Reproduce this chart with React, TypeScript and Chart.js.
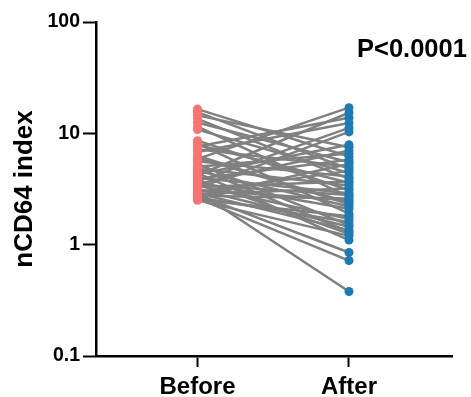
import React, { useEffect, useRef } from "react";
import { Chart, registerables } from "chart.js";

Chart.register(...registerables);

const groupLabels = ["Before", "After"];
const yTickValues = [0.1, 1, 10, 100];
const yTickLabels = ["0.1", "1", "10", "100"];
const pValueText = "P<0.0001";
const yTitle = "nCD64 index";

const beforeValues = [
  16.5, 15.5, 14.5, 13.5, 12.5, 11.5, 10.8, 8.6, 8.1, 7.9, 7.6, 7.2, 6.8, 6.3,
  6.0, 5.9, 5.6, 5.3, 5.0, 4.9, 4.8, 4.6, 4.4, 4.3, 4.2, 4.0, 3.9, 3.8, 3.7,
  3.6, 3.5, 3.45, 3.4, 3.3, 3.2, 3.15, 3.1, 3.0, 2.95, 2.9, 2.85, 2.8, 2.75,
  2.7, 2.65, 2.6, 2.55, 2.5,
];
const afterValues = [
  6.2, 4.8, 7.5, 3.9, 5.5, 2.7, 4.4, 3.1, 1.9, 3.6, 13.8, 5.0, 12.4, 2.3, 2.4,
  17.0, 4.1, 1.5, 6.6, 1.3, 3.4, 2.2, 1.1, 7.9, 15.3, 2.9, 5.8, 1.25, 11.2,
  2.1, 7.0, 2.8, 1.7, 3.7, 10.3, 1.45, 2.5, 0.38, 4.6, 1.35, 3.2, 0.85, 2.6,
  5.3, 1.6, 0.72, 1.8, 1.2,
];

const FONT = "'Liberation Sans', Arial, Helvetica, sans-serif";
const RED = "#f87372";
const BLUE = "#1b7bb5";
const GRAY = "#808080";

export default function App() {
  const ref = useRef<HTMLCanvasElement | null>(null);
  useEffect(() => {
    if (!ref.current) return;
    const lineSets = beforeValues.map((b, i) => ({
      data: [
        { x: 0, y: b },
        { x: 1, y: afterValues[i] },
      ],
      showLine: true,
      borderColor: GRAY,
      borderWidth: 2.5,
      pointRadius: 0,
      pointHoverRadius: 0,
      order: 2,
    }));
    const pointSets = [
      {
        data: beforeValues.map((v) => ({ x: 0, y: v })),
        showLine: false,
        pointRadius: 4.5,
        pointBackgroundColor: RED,
        pointBorderColor: RED,
        pointBorderWidth: 0,
        order: 1,
      },
      {
        data: afterValues.map((v) => ({ x: 1, y: v })),
        showLine: false,
        pointRadius: 4.5,
        pointBackgroundColor: BLUE,
        pointBorderColor: BLUE,
        pointBorderWidth: 0,
        order: 0,
      },
    ];
    const pPlugin = {
      id: "ptext",
      afterDraw(chart: any) {
        const ctx = chart.ctx;
        ctx.save();
        ctx.font = `bold 25.5px ${FONT}`;
        ctx.fillStyle = "#000";
        ctx.textAlign = "left";
        ctx.textBaseline = "alphabetic";
        ctx.fillText(pValueText, 357, 57);
        ctx.restore();
      },
    };
    const chart = new Chart(ref.current, {
      type: "scatter",
      data: { datasets: [...lineSets, ...pointSets] as any },
      plugins: [pPlugin],
      options: {
        animation: false,
        responsive: false,
        maintainAspectRatio: false,
        events: [],
        layout: { padding: { top: 22, right: 19, left: 0, bottom: 0 } },
        plugins: {
          legend: { display: false },
          tooltip: { enabled: false },
        },
        scales: {
          x: {
            type: "linear",
            min: -0.67,
            max: 1.68,
            afterBuildTicks: (s: any) => {
              s.ticks = [{ value: 0 }, { value: 1 }];
            },
            afterFit: (s: any) => {
              s.height = 41;
            },
            ticks: {
              callback: (v: any) => groupLabels[Number(v)] ?? "",
              color: "#000",
              font: { family: FONT, size: 24, weight: "bold" },
              padding: 6,
              maxRotation: 0,
              autoSkip: false,
            },
            grid: {
              drawOnChartArea: false,
              drawTicks: true,
              tickLength: 11,
              tickWidth: 2,
              tickColor: "#000",
            },
            border: { display: true, color: "#000", width: 2.5 },
          },
          y: {
            type: "logarithmic",
            min: 0.1,
            max: 100,
            afterBuildTicks: (s: any) => {
              s.ticks = yTickValues.map((v) => ({ value: v }));
            },
            afterFit: (s: any) => {
              s.width = 96;
            },
            ticks: {
              callback: (v: any) => {
                const i = yTickValues.indexOf(Number(v));
                return i >= 0 ? yTickLabels[i] : "";
              },
              color: "#000",
              font: { family: FONT, size: 19.5, weight: "bold" },
              padding: 3,
              autoSkip: false,
            },
            grid: {
              drawOnChartArea: false,
              drawTicks: true,
              tickLength: 13,
              tickWidth: 2,
              tickColor: "#000",
            },
            border: { display: true, color: "#000", width: 2.5 },
            title: {
              display: true,
              text: yTitle,
              color: "#000",
              font: { family: FONT, size: 26, weight: "bold" },
              padding: { top: 9, bottom: 0 },
            },
          },
        },
      } as any,
    });
    return () => chart.destroy();
  }, []);
  return (
    <div style={{ position: "absolute", left: 0, top: 0, width: 471, height: 397 }}>
      <canvas ref={ref} width={471} height={397} style={{ display: "block" }} />
    </div>
  );
}
